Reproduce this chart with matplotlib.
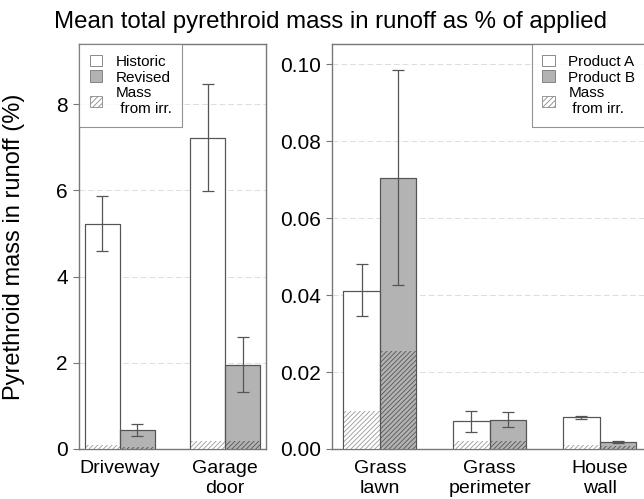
import numpy as np
import matplotlib.pyplot as plt
from matplotlib.patches import Patch

plt.rcParams['font.family'] = ['Liberation Sans', 'DejaVu Sans']
plt.rcParams['hatch.linewidth'] = 0.6

# left panel: surfaces, historic vs revised
left_cats = ['Driveway', 'Garage\ndoor']
hist_mean = [5.22, 7.22]
hist_lo = [4.60, 5.98]
hist_hi = [5.88, 8.47]
hist_irr = [0.10, 0.19]
rev_mean = [0.43, 1.95]
rev_lo = [0.30, 1.32]
rev_hi = [0.57, 2.60]
rev_irr = [0.04, 0.19]

# right panel: product A vs product B
right_cats = ['Grass\nlawn', 'Grass\nperimeter', 'House\nwall']
a_mean = [0.0410, 0.0072, 0.0082]
a_lo = [0.0345, 0.0044, 0.0078]
a_hi = [0.0480, 0.0099, 0.0085]
a_irr = [0.0100, 0.0020, 0.0011]
b_mean = [0.0705, 0.0076, 0.0019]
b_lo = [0.0425, 0.0058, 0.0016]
b_hi = [0.0985, 0.0095, 0.0022]
b_irr = [0.0255, 0.0020, 0.0008]

GRAY = '#b3b3b3'
EDGE = '#555555'
ERR = '#555555'
W = 0.333

fig = plt.figure(figsize=(6.44, 4.99), dpi=100)
ax1 = fig.add_axes([79/644, 50/499, 187/644, 405/499])
ax2 = fig.add_axes([332/644, 50/499, 316/644, 405/499])


def draw(ax, mean1, lo1, hi1, irr1, mean2, lo2, hi2, irr2):
    x = np.arange(len(mean1))
    ax.bar(x - W/2, mean1, W, color='white', edgecolor=EDGE, linewidth=0.8, zorder=2)
    ax.bar(x + W/2, mean2, W, color=GRAY, edgecolor=EDGE, linewidth=0.8, zorder=2)
    ax.bar(x - W/2, irr1, W, color='white', edgecolor='#999999', hatch='///////',
           linewidth=0, zorder=3)
    ax.bar(x + W/2, irr2, W, color=GRAY, edgecolor='#555555', hatch='///////',
           linewidth=0, zorder=3)
    # outline again on top
    ax.bar(x - W/2, mean1, W, fill=False, edgecolor=EDGE, linewidth=0.8, zorder=4)
    ax.bar(x + W/2, mean2, W, fill=False, edgecolor=EDGE, linewidth=0.8, zorder=4)
    m1, m2 = np.array(mean1), np.array(mean2)
    ax.errorbar(x - W/2, m1, yerr=[m1 - np.array(lo1), np.array(hi1) - m1], fmt='none',
                ecolor=ERR, elinewidth=0.9, capsize=4, capthick=0.9, zorder=5)
    ax.errorbar(x + W/2, m2, yerr=[m2 - np.array(lo2), np.array(hi2) - m2], fmt='none',
                ecolor=ERR, elinewidth=0.9, capsize=4, capthick=0.9, zorder=5)
    for s in ax.spines.values():
        s.set_color('#777777')
        s.set_linewidth(1.0)
    ax.yaxis.grid(True, linestyle=(0, (6, 3)), color='#dddddd', linewidth=0.7, zorder=0)
    ax.set_axisbelow(True)
    ax.tick_params(axis='x', length=0, labelsize=14, pad=8)
    ax.tick_params(axis='y', labelsize=15, color='#777777', length=4, pad=4)


draw(ax1, hist_mean, hist_lo, hist_hi, hist_irr, rev_mean, rev_lo, rev_hi, rev_irr)
ax1.set_xticks(range(len(left_cats)))
ax1.set_xticklabels(left_cats, linespacing=1.25)
ax1.set_xlim(-0.39, 1.39)
ax1.set_ylim(0, 9.4)
ax1.set_yticks([0, 2, 4, 6, 8])
ax1.set_ylabel('Pyrethroid mass in runoff (%)', fontsize=17)
ax1.yaxis.set_label_coords(-54/187, 0.5)

draw(ax2, a_mean, a_lo, a_hi, a_irr, b_mean, b_lo, b_hi, b_irr)
ax2.set_xticks(range(len(right_cats)))
ax2.set_xticklabels(right_cats, linespacing=1.25)
ax2.set_xlim(-0.436, 2.44)
ax2.set_ylim(0, 0.1052)
ax2.set_yticks([0, 0.02, 0.04, 0.06, 0.08, 0.10])
ax2.set_yticklabels(['0.00', '0.02', '0.04', '0.06', '0.08', '0.10'])

def legend(ax, names, loc):
    handles = [Patch(facecolor='white', edgecolor='#777777', linewidth=0.6),
               Patch(facecolor=GRAY, edgecolor='#777777', linewidth=0.6),
               Patch(facecolor='white', edgecolor='#888888', hatch='//////', linewidth=0.6)]
    lg = ax.legend(handles, names, loc=loc, fontsize=11, frameon=True, fancybox=False,
                   handlelength=0.8, handleheight=0.8, handletextpad=0.9,
                   labelspacing=0.1, borderaxespad=0, borderpad=0.7)
    lg.get_frame().set_edgecolor('#777777')
    lg.get_frame().set_linewidth(0.8)
    return lg

legend(ax1, ['Historic', 'Revised', 'Mass\n from irr.'], 'upper left')
lg2 = legend(ax2, ['Product A', 'Product B', 'Mass\n from irr.'], 'upper right')
lg2.set_bbox_to_anchor((1.0 - 2/316, 1.0), transform=ax2.transAxes)

fig.text(330/644, 1 - 22/499, 'Mean total pyrethroid mass in runoff as % of applied',
         ha='center', va='center', fontsize=17.3)

fig.savefig('out.png', dpi=100)
